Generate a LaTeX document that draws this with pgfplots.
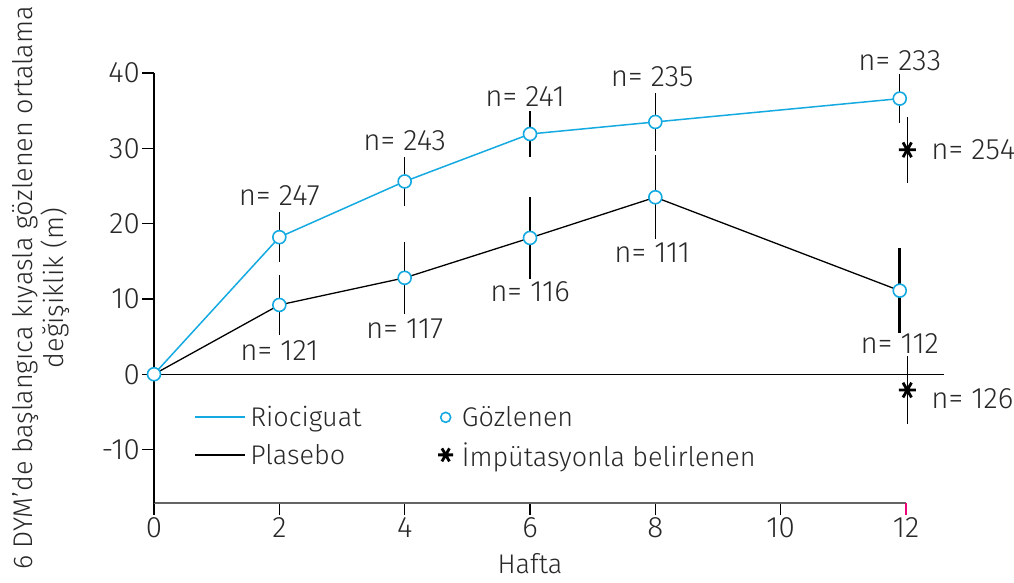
\documentclass[border=0pt]{standalone}
\usepackage{fontspec}
\setmainfont{Fira Sans Light}
\usepackage{pgfplots}
\pgfplotsset{compat=1.18}
\definecolor{rioblue}{RGB}{20,170,225}
\definecolor{txt}{RGB}{40,40,40}
\definecolor{axisgray}{RGB}{100,100,100}
\newcommand{\fs}{\fontsize{27}{31}\selectfont}
\newcommand{\fn}{\fontsize{29.5}{33}\selectfont}
\pgfplotsset{
  riolegend/.style={legend image code/.code={\draw[draw=rioblue, line width=1.8pt] (0pt,0pt) -- (50pt,0pt); \path (53pt,0pt);}},
  plalegend/.style={legend image code/.code={\draw[draw=black, line width=1.3pt] (0pt,0pt) -- (50pt,0pt); \path (53pt,0pt);}},
  marklegend/.style={legend image code/.code={\draw[##1] plot coordinates {(0pt,0pt)}; \path (-8pt,0pt) (14pt,0pt);}},
}
\begin{document}
\begin{tikzpicture}[x=1pt,y=1pt]
\begin{axis}[
  at={(0,0)}, anchor=south west,
  scale only axis, width=752pt, height=430pt,
  xmin=0, xmax=12, ymin=-17.1, ymax=40,
  axis x line*=bottom, axis y line*=left,
  x axis line style={-, draw=axisgray, line width=2.5pt},
  y axis line style={-, draw=black, line width=1.3pt},
  xtick={0,2,...,10}, ytick={-10,0,...,40},
  extra x ticks={12},
  extra x tick style={tick style={color=magenta!80!red, line width=1.2pt}},
  tick align=outside, major tick length=12pt,
  tick style={black, line width=1.2pt},
  /pgf/number format/assume math mode=true,
  ticklabel style={font=\fn, text=txt, inner sep=2pt},
  xlabel={Hafta},
  every axis x label/.style={at={(axis cs:6,-17.1)}, anchor=base, yshift=-70pt, font=\fs, text=txt, inner sep=0pt},
  ylabel={6 DYM’de başlangıca kıyasla gözlenen ortalama\\değişiklik (m)},
  every axis y label/.style={at={(axis description cs:0,0.5)}, xshift=-113pt, rotate=90, anchor=center, align=center, font=\fs, text=txt},
  clip=false,
  legend columns=2,
  legend cell align=left,
  legend style={at={(axis cs:0.59,-3.72)}, anchor=north west, draw=none, fill=none, font=\fs, text=txt,
    /tikz/every even column/.append style={column sep=74pt}, row sep=10pt},
]
% zero line
\addplot[black, line width=1.2pt, forget plot] coordinates {(0,0) (12.6,0)};
% error bars Riociguat
\addplot[only marks, mark=none, forget plot, error bars/.cd, y dir=both, y explicit, error mark=none,
  error bar style={black, line width=1.5pt}] coordinates {
  (2,18.2) +- (0,3.3)
  (4,25.6) +- (0,3.2)
  (6,31.9) +- (0,3.0)
  (8,33.5) +- (0,3.9)
  (11.9,36.6) +- (0,3.3)
};
% error bars Placebo
\addplot[only marks, mark=none, forget plot, error bars/.cd, y dir=both, y explicit, error mark=none,
  error bar style={black, line width=1.5pt}] coordinates {
  (2,9.2) +- (0,4.0)
  (4,12.8) +- (0,4.8)
  (6,18.1) +- (0,5.5)
  (8,23.5) +- (0,5.6)
};
\addplot[only marks, mark=none, forget plot, error bars/.cd, y dir=both, y explicit, error mark=none,
  error bar style={black, line width=2.5pt}] coordinates {
  (11.9,11.1) +- (0,5.6)
};
% imputed error bars
\addplot[only marks, mark=none, forget plot, error bars/.cd, y dir=both, y explicit, error mark=none,
  error bar style={black, line width=1.5pt}] coordinates {
  (12.02,29.8) +- (0,4.4)
  (12.02,-2.1) +- (0,4.5)
};
% lines
\addplot[rioblue, line width=1.5pt, forget plot] coordinates {(0,0) (2,18.2) (4,25.6) (6,31.9) (8,33.5) (11.9,36.6)};
\addplot[black, line width=1.3pt, forget plot] coordinates {(0,0) (2,9.2) (4,12.8) (6,18.1) (8,23.5) (11.9,11.1)};
% observed markers
\addplot[only marks, mark=*, mark size=6.5pt, mark options={fill=white, draw=rioblue, line width=1.6pt}, forget plot] coordinates {
  (0,0) (2,18.2) (4,25.6) (6,31.9) (8,33.5) (11.9,36.6)
  (2,9.2) (4,12.8) (6,18.1) (8,23.5) (11.9,11.1)};
% imputed markers
\addplot[only marks, mark=asterisk, mark size=8.5pt, mark options={black, line width=2.8pt, rotate=90}, forget plot] coordinates {
  (12.02,29.8) (12.02,-2.1)};
% legend
\addlegendimage{riolegend}
\addlegendentry{Riociguat}
\addlegendimage{only marks, mark=*, mark size=5pt, mark options={fill=white, draw=rioblue, line width=1.6pt}, marklegend}
\addlegendentry{Gözlenen}
\addlegendimage{plalegend}
\addlegendentry{Plasebo}
\addlegendimage{only marks, mark=asterisk, mark size=7.5pt, mark options={black, line width=2.8pt, rotate=90}, marklegend}
\addlegendentry{İmpütasyonla belirlenen}
% n labels
\begin{scope}[every node/.style={font=\fn, text=txt}]
\node at (axis cs:2,23.7) {n= 247};
\node at (axis cs:4,31.0) {n= 243};
\node at (axis cs:5.92,36.9) {n= 241};
\node at (axis cs:7.95,39.5) {n= 235};
\node at (axis cs:11.9,41.7) {n= 233};
\node[anchor=west] at (axis cs:12.35,29.8) {n= 254};
\node at (axis cs:2,3.2) {n= 121};
\node at (axis cs:4,6.0) {n= 117};
\node at (axis cs:6.0,10.9) {n= 116};
\node at (axis cs:7.95,16.1) {n= 111};
\node at (axis cs:11.9,4.1) {n= 112};
\node[anchor=west] at (axis cs:12.35,-3.2) {n= 126};
\end{scope}
\end{axis}
\pgfresetboundingbox
\path (-154pt,-79pt) rectangle (860pt,503pt);
\end{tikzpicture}
\end{document}
